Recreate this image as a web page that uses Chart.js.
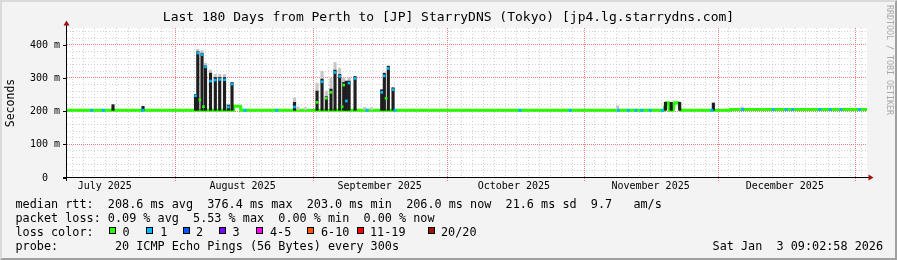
<!DOCTYPE html>
<html>
<head>
<meta charset="utf-8">
<script src="https://cdn.jsdelivr.net/npm/chart.js@4.4.1/dist/chart.umd.min.js"></script>
<style>
html,body{margin:0;padding:0;background:#f3f3f3;}
#wrap{position:relative;width:897px;height:260px;overflow:hidden;background:#f3f3f3;}
#frame{position:absolute;left:0;top:0;width:897px;height:260px;box-sizing:border-box;border-style:solid;border-width:2px;border-color:#dadada #a0a0a0 #a0a0a0 #dadada;}
canvas{position:absolute;left:0;top:0;}
.t{position:absolute;font-family:'DejaVu Sans Mono',monospace;font-size:11.8px;line-height:14px;white-space:pre;color:#000;}
.box{position:absolute;width:7px;height:7px;box-sizing:border-box;border:1px solid #000;}
</style>
</head>
<body>
<div id="wrap">
  <div id="frame"></div>
  <canvas id="c" width="897" height="260"></canvas>
  <div class="t" style="top:197px;left:15.5px">median rtt:  208.6 ms avg  376.4 ms max  203.0 ms min  206.0 ms now  21.6 ms sd  9.7   am/s</div>
  <div class="t" style="top:211px;left:15.5px">packet loss: 0.09 % avg  5.53 % max  0.00 % min  0.00 % now</div>
  <div class="t" style="top:225px;left:15.5px">loss color:</div>
  <div class="t" style="top:239px;left:15.5px">probe:        20 ICMP Echo Pings (56 Bytes) every 300s</div>
  <div class="t" style="top:239px;left:712.6px">Sat Jan  3 09:02:58 2026</div>
</div>
<script>
// ---------- data ----------
const titleText = 'Last 180 Days from Perth to [JP] StarryDNS (Tokyo) [jp4.lg.starrydns.com]';
const xTickLabels = ['July 2025','August 2025','September 2025','October 2025','November 2025','December 2025'];
const xTickDays = [8.5, 39.5, 70.35, 100.55, 131.3, 161.5];
const monthStartDays = [24.62, 55.62, 85.62, 116.62, 146.62, 177.62];
const yTicks = [0, 100, 200, 300, 400];
const yTickLabels = ['0  ', '100 m', '200 m', '300 m', '400 m'];

// median line (loss 0) path
const medianDays = [0, 37.4, 37.5, 39.0, 39.1, 134.3, 134.8, 135.3, 135.5, 136.4, 136.7, 137.6, 138.0, 149.2, 149.3, 180];
const medianVals = [204, 204, 216, 216, 204, 204, 227, 227, 204, 204, 227, 227, 204, 204, 206.5, 206.5];

// short loss-1 specks on the median line
const loss1Days = [5.56, 8.17, 17.1, 40.05, 47.19, 67.5, 73.8, 101.9, 113.2, 124.05, 126.3, 128.0, 129.3, 131.2, 134.0, 145.1, 152.0, 158.9, 161.8, 163.3, 169.4, 171.7, 174.1, 178.3];
const loss1Vals = [204, 204, 204, 204, 204, 204, 204, 204, 204, 204, 204, 204, 204, 204, 204, 204, 206.5, 206.5, 206.5, 206.5, 206.5, 206.5, 206.5, 206.5];

// medians inside the spikes
const spikeDays = [28.92, 29.43, 29.9, 30.38, 30.7, 31.17, 32.29, 33.37, 34.36, 35.44, 36.3, 37.13, 51.19, 56.26, 57.38, 58.35, 59.4, 60.3, 61.36, 61.9, 62.26, 62.85, 63.46, 64.81, 70.81, 71.4, 71.8, 72.3, 73.36];
const spikeVals = [248, 377, 235, 372, 215, 335, 292, 295, 297, 296, 214, 283, 214, 228, 290, 240, 258, 318, 306, 215, 280, 232, 286, 300, 258, 308, 240, 330, 266];
const spikeLoss = [1, 1, 0, 1, 0, 1, 1, 1, 1, 1, 1, 1, 1, 0, 1, 0, 0, 1, 1, 0, 0, 1, 1, 1, 1, 1, 0, 1, 1];

// dark smoke (rtt spread)
const smokeDays = [10.35, 17.1, 28.92, 29.43, 30.38, 31.17, 32.29, 33.37, 34.36, 35.44, 36.3, 37.13, 51.19, 56.26, 57.38, 58.35, 59.4, 60.3, 61.36, 62.26, 62.85, 63.46, 64.81, 70.81, 71.4, 72.3, 73.36, 134.65, 135.95, 137.85, 145.43];
const smokeLow  = [204, 204, 204, 204, 204, 204, 204, 204, 204, 204, 204, 204, 204, 204, 204, 204, 204, 204, 204, 204, 204, 204, 204, 204, 204, 204, 204, 204, 204, 204, 204];
const smokeHigh = [221, 216, 252, 381, 376, 338, 316, 303, 303, 303, 220, 288, 228, 262, 298, 245, 268, 325, 312, 288, 292, 292, 306, 266, 316, 337, 272, 228, 228, 228, 226];

// light smoke
const fadeDays = [29.43, 30.38, 31.17, 32.29, 33.37, 34.36, 35.44, 51.19, 52.0, 53.6, 56.26, 57.38, 58.35, 59.4, 60.3, 61.36, 62.26, 63.46, 67.0, 68.5, 123.9, 151.9];
const fadeLow  = [381, 376, 338, 316, 303, 303, 303, 228, 206, 206, 262, 298, 245, 268, 325, 312, 288, 292, 206, 206, 206, 206];
const fadeHigh = [388, 384, 346, 325, 312, 312, 312, 240, 214, 212, 285, 322, 262, 300, 348, 330, 300, 302, 213, 212, 218, 214];

// loss legend
const lossLabels = ['0', '1', '2', '3', '4-5', '6-10', '11-19', '20/20'];
const lossColors = ['#26ff00', '#00b8ff', '#0059ff', '#7e00ff', '#ff00ff', '#ff5500', '#ff0000', '#a01400'];

// ---------- layout of the loss legend ----------
const lossBoxX = [109, 145.7, 182.7, 219, 256, 306.7, 356.7, 427.7];
const lossTextX = [122.6, 160.3, 196.0, 232.6, 270.0, 321.0, 370.0, 441.0];
const wrap = document.getElementById('wrap');
lossLabels.forEach((lab, i) => {
  const b = document.createElement('div');
  b.className = 'box';
  b.style.left = lossBoxX[i] + 'px';
  b.style.top = '226.5px';
  b.style.background = lossColors[i];
  wrap.appendChild(b);
  const t = document.createElement('div');
  t.className = 't';
  t.style.left = lossTextX[i] + 'px';
  t.style.top = '225px';
  t.textContent = lab;
  wrap.appendChild(t);
});

// ---------- chart ----------
const MONO = "'DejaVu Sans Mono'";
const rrdPlugin = {
  id: 'rrd',
  beforeDraw(chart) {
    const {ctx, chartArea: a} = chart;
    ctx.save();
    ctx.fillStyle = '#ffffff';
    ctx.fillRect(a.left, a.top, a.right - a.left, a.bottom - a.top);
    ctx.restore();
  },
  beforeDatasetsDraw(chart) {
    const {ctx, chartArea: a, scales: {x, y}} = chart;
    ctx.save();
    ctx.lineWidth = 1;
    // minor horizontal
    ctx.strokeStyle = '#d2d2d2';
    ctx.setLineDash([1, 2]);
    ctx.beginPath();
    for (let v = 20; v < y.max; v += 20) {
      if (v % 100 === 0) continue;
      const py = Math.round(y.getPixelForValue(v)) - 0.5;
      ctx.moveTo(a.left, py); ctx.lineTo(a.right, py);
    }
    // minor vertical (skipped where a month line sits)
    for (let d = 1.35; d < x.max; d += 2.5) {
      if (monthStartDays.some(m => Math.abs(m - d) < 0.4)) continue;
      const px = Math.round(x.getPixelForValue(d)) - 0.5;
      ctx.moveTo(px, a.top); ctx.lineTo(px, a.bottom);
    }
    ctx.stroke();
    // major
    ctx.strokeStyle = '#ea7e7e';
    ctx.setLineDash([1, 1]);
    ctx.beginPath();
    yTicks.forEach(v => {
      if (v === 0) return;
      const py = Math.round(y.getPixelForValue(v)) - 0.5;
      ctx.moveTo(a.left, py); ctx.lineTo(a.right, py);
    });
    monthStartDays.forEach(d => {
      const px = Math.round(x.getPixelForValue(d)) - 0.5;
      ctx.moveTo(px, a.top); ctx.lineTo(px, a.bottom + 3);
    });
    ctx.stroke();
    ctx.restore();
  },
  afterDatasetsDraw(chart) {
    const {ctx, chartArea: a} = chart;
    ctx.save();
    ctx.setLineDash([]);
    ctx.lineWidth = 1;
    ctx.strokeStyle = '#000';
    const ax = Math.round(a.left) - 0.5;
    const ay = Math.round(a.bottom) - 0.5;
    ctx.beginPath();
    ctx.moveTo(ax, a.bottom + 3); ctx.lineTo(ax, a.top - 4);
    ctx.moveTo(a.left - 4, ay); ctx.lineTo(a.right + 3, ay);
    ctx.stroke();
    ctx.fillStyle = '#a01010';
    ctx.beginPath();
    ctx.moveTo(ax, a.top - 7.5); ctx.lineTo(ax - 3, a.top - 2.5); ctx.lineTo(ax + 3, a.top - 2.5); ctx.closePath();
    ctx.fill();
    ctx.beginPath();
    ctx.moveTo(a.right + 6.5, ay); ctx.lineTo(a.right + 1.5, ay - 3); ctx.lineTo(a.right + 1.5, ay + 3); ctx.closePath();
    ctx.fill();
    ctx.restore();
  },
  afterDraw(chart) {
    const {ctx} = chart;
    ctx.save();
    ctx.translate(886, 5);
    ctx.rotate(Math.PI / 2);
    ctx.font = "8.3px " + MONO;
    ctx.fillStyle = '#a8a8a8';
    ctx.textBaseline = 'middle';
    ctx.textAlign = 'left';
    ctx.fillText('RRDTOOL / TOBI OETIKER', 0, -3.5);
    ctx.restore();
  }
};

new Chart(document.getElementById('c'), {
  type: 'bar',
  data: {
    datasets: [
      {
        type: 'line', order: 5,
        data: medianDays.map((d, i) => ({x: d, y: medianVals[i]})),
        borderColor: lossColors[0], borderWidth: 3, pointRadius: 0, tension: 0,
        borderCapStyle: 'butt', borderJoinStyle: 'miter'
      },
      {
        type: 'bar', order: 4, grouped: false,
        data: fadeDays.map((d, i) => ({x: d, y: [fadeLow[i], fadeHigh[i]]})),
        backgroundColor: '#c6c6c6', barThickness: 2.5, borderWidth: 0, borderSkipped: false
      },
      {
        type: 'bar', order: 3, grouped: false,
        data: smokeDays.map((d, i) => ({x: d, y: [smokeLow[i], smokeHigh[i]]})),
        backgroundColor: '#1e1e1e', barThickness: 2.5, borderWidth: 0, borderSkipped: false
      },
      {
        type: 'line', order: 2, showLine: false,
        data: loss1Days.map((d, i) => ({x: d, y: loss1Vals[i]})),
        pointStyle: 'rect', pointRadius: 2.1, pointBorderWidth: 0,
        pointBackgroundColor: lossColors[1]
      },
      {
        type: 'line', order: 1, showLine: false,
        data: spikeDays.map((d, i) => ({x: d, y: spikeVals[i]})),
        pointStyle: 'rect', pointRadius: 1.9, pointBorderWidth: 0,
        pointBackgroundColor: spikeLoss.map(l => lossColors[l])
      }
    ]
  },
  options: {
    responsive: false, animation: false, devicePixelRatio: 1, events: [],
    layout: {padding: 0},
    plugins: {
      legend: {display: false}, tooltip: {enabled: false},
      title: {
        display: true, text: titleText, color: '#000',
        font: {family: MONO, size: 13, weight: 'normal', lineHeight: 1.2},
        padding: {top: 9.8, bottom: 2.6}
      }
    },
    scales: {
      x: {
        type: 'linear', position: 'bottom', min: 0, max: 180, offset: false,
        afterBuildTicks: s => { s.ticks = xTickDays.map(v => ({value: v})); },
        afterFit: s => { s.height = 82; },
        grid: {display: false, drawTicks: false, offset: false},
        border: {display: false},
        ticks: {
          autoSkip: false, maxRotation: 0, minRotation: 0, padding: 2, color: '#000',
          font: {family: MONO, size: 10},
          callback: (v, i) => xTickLabels[i]
        }
      },
      y: {
        type: 'linear', position: 'left', min: 0, max: 452,
        afterBuildTicks: s => { s.ticks = yTicks.map(v => ({value: v})); },
        afterFit: s => { s.width = 67; },
        grid: {drawOnChartArea: false, drawTicks: true, tickLength: 4, tickColor: '#000', tickWidth: 1},
        border: {display: false},
        ticks: {
          padding: 3, color: '#000', font: {family: MONO, size: 10},
          callback: (v, i) => yTickLabels[i]
        },
        title: {
          display: true, text: 'Seconds', color: '#000',
          font: {family: MONO, size: 11.5, lineHeight: 1.2},
          padding: {top: 4.3, bottom: 0}
        }
      },
      yr: {
        type: 'linear', position: 'right', display: true,
        grid: {display: false}, border: {display: false}, ticks: {display: false},
        afterFit: s => { s.width = 30; }
      }
    }
  },
  plugins: [rrdPlugin]
});
</script>
</body>
</html>
